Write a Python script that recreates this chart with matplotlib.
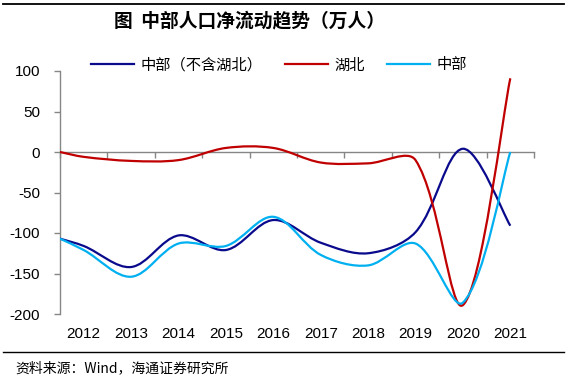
import matplotlib
matplotlib.use("Agg")
import math
import matplotlib.pyplot as plt
from matplotlib.path import Path
from matplotlib.patches import PathPatch
from matplotlib.lines import Line2D

years = ['2012', '2013', '2014', '2015', '2016', '2017', '2018', '2019', '2020', '2021']
# first value is the starting point drawn at the left axis
central_ex_hubei = [-107, -116, -142, -103, -121, -84, -112, -125, -99, 4, -91]
hubei = [0, -6, -11, -10, 5, 5, -13, -14, -10, -189, 91]
central = [-107, -121, -154, -113, -116, -80, -127, -140, -113, -186, 0]
series_names = ['中部（不含湖北）', '湖北', '中部']
colors = ['#0A0A8C', '#C00000', '#00B0F0']
yticks = [100, 50, 0, -50, -100, -150, -200]

CJK = ['Noto Sans CJK SC', 'DejaVu Sans']
plt.rcParams['font.family'] = ['Liberation Sans', 'Noto Sans CJK SC', 'DejaVu Sans']

fig = plt.figure(figsize=(5.71, 3.79), dpi=100)
ax = fig.add_axes([60/571, 1-314/379, 474/571, 243/379])

xs = [0.0] + [i + 0.5 for i in range(len(years))]
SX, SY = 47.4, 0.808  # pixel scale used for segment-length weighting


def smooth_path(x, y):
    pts = list(zip(x, y))
    n = len(pts)

    def dist(a, b):
        return math.hypot((a[0] - b[0]) * SX, (a[1] - b[1]) * SY)

    out_c, in_c = [], []
    for i in range(n):
        p = pts[i]
        pp = pts[i - 1] if i > 0 else pts[i]
        pn = pts[i + 1] if i < n - 1 else pts[i]
        tx, ty = pn[0] - pp[0], pn[1] - pp[1]
        d0 = dist(pp, p)
        d1 = dist(p, pn)
        if i == 0 or i == n - 1:
            fo = fi = 1 / 6
        else:
            fo = d1 / (d0 + d1) / 3
            fi = d0 / (d0 + d1) / 3
        out_c.append((p[0] + tx * fo, p[1] + ty * fo))
        in_c.append((p[0] - tx * fi, p[1] - ty * fi))
    verts = [pts[0]]
    codes = [Path.MOVETO]
    for i in range(n - 1):
        verts += [out_c[i], in_c[i + 1], pts[i + 1]]
        codes += [Path.CURVE4] * 3
    return Path(verts, codes)


handles = []
for vals, c, name in zip([central_ex_hubei, hubei, central], colors, series_names):
    patch = PathPatch(smooth_path(xs, vals), fill=False, edgecolor=c, lw=1.6,
                      capstyle='butt', joinstyle='round', zorder=3)
    ax.add_patch(patch)
    handles.append(Line2D([], [], color=c, lw=1.6, label=name))

ax.set_xlim(0, len(years))
ax.set_ylim(-200, 100)

spine_c = '#868686'
for s in ['top', 'right']:
    ax.spines[s].set_visible(False)
ax.spines['left'].set_color(spine_c)
ax.spines['left'].set_linewidth(1.0)
ax.spines['bottom'].set_position(('data', 0))
ax.spines['bottom'].set_color(spine_c)
ax.spines['bottom'].set_linewidth(1.0)

ax.set_yticks(yticks)
ax.set_yticklabels([str(v) for v in yticks])
ax.tick_params(axis='y', direction='out', length=4.3, width=1.0, color=spine_c,
               pad=10, labelsize=11)
ax.set_xticks(range(len(years) + 1))
ax.set_xticklabels([])
ax.tick_params(axis='x', direction='out', length=4, width=1.0, color=spine_c)

tr = ax.get_xaxis_transform()
for i, yr in enumerate(years):
    ax.text(i + 0.5, -0.082, yr, transform=tr, ha='center', va='center',
            fontsize=11, family='Liberation Sans')

fig.legend(handles=handles, loc='center', bbox_to_anchor=(279/571, 1-65/379),
           ncol=3, frameon=False, handlelength=2.8, handletextpad=0.4,
           columnspacing=1.5, prop={'family': CJK, 'size': 11})

fig.text(250/571, 1-21/379, '图  中部人口净流动趋势（万人）', ha='center', va='center',
         fontsize=13.5, fontweight='bold', family=CJK)
fig.text(15/571, 1-368/379, '资料来源：Wind，海通证券研究所', ha='left', va='center',
         fontsize=10, family=CJK)

fig.add_artist(Line2D([3/571, 564/571], [1-4/379, 1-4/379], color='black', lw=1.3))
fig.add_artist(Line2D([3/571, 564/571], [1-351.7/379, 1-351.7/379], color='black', lw=1.0))

fig.savefig('out.png', dpi=100)
